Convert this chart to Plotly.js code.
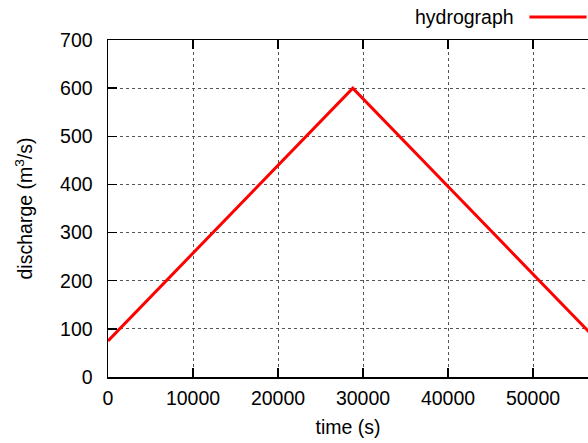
<!DOCTYPE html>
<html><head><meta charset="utf-8">
<script src="https://cdn.plot.ly/plotly-3.0.1.min.js"></script>
<style>html,body{margin:0;padding:0;background:#fff}#c{width:588px;height:443px}</style>
</head><body><div id="c"></div>
<script>
const seriesName = "hydrograph";
const timeS = [0, 28800, 57600];
const discharge = [75, 600, 75];
const xTicks = [0, 10000, 20000, 30000, 40000, 50000];
const yTicks = [0, 100, 200, 300, 400, 500, 600, 700];

const font = {family: "Liberation Sans, Arial, sans-serif", size: 19.5, color: "#000"};
const trace = {x: timeS, y: discharge, mode: "lines", name: seriesName,
  line: {color: "#ff0000", width: 3}, showlegend: false};
const layout = {
  width: 588, height: 443,
  margin: {l: 108, r: 0, t: 40, b: 66},
  paper_bgcolor: "#fff", plot_bgcolor: "#fff",
  font: font,
  xaxis: {range: [0, 56470], tickvals: xTicks, ticktext: xTicks.map(String),
    showline: true, linecolor: "#000", linewidth: 1.5, mirror: "allticks",
    ticks: "inside", ticklen: 9, tickcolor: "#000", tickwidth: 1.5,
    showgrid: true, gridcolor: "#555", griddash: "dot", gridwidth: 1,
    zeroline: false, ticklabelstandoff: 3,
    title: {text: "time (s)", font: font, standoff: 12}},
  yaxis: {range: [0, 700], tickvals: yTicks, ticktext: yTicks.map(String),
    showline: true, linecolor: "#000", linewidth: 1.5, mirror: false,
    ticks: "inside", ticklen: 9, tickcolor: "#000", tickwidth: 1.5,
    showgrid: true, gridcolor: "#555", griddash: "dot", gridwidth: 1,
    zeroline: false, ticklabelstandoff: 10,
    title: {text: "discharge (m<sup>3</sup>/s)", font: font, standoff: 22}},
  annotations: [{text: seriesName, xref: "paper", yref: "paper", x: 0.85, y: 1.068,
    xanchor: "right", yanchor: "middle", showarrow: false, font: font}],
  shapes: [{type: "line", xref: "paper", yref: "paper", x0: 0.878, x1: 0.997, y0: 1.068, y1: 1.068,
    line: {color: "#ff0000", width: 3}}]
};
Plotly.newPlot("c", [trace], layout, {displayModeBar: false, staticPlot: true});
</script></body></html>
